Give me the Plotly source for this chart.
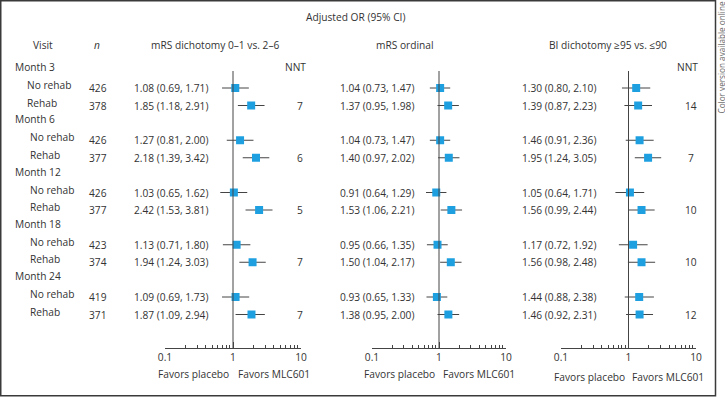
import plotly.graph_objects as go

W, H = 725, 397

# ---------------- data ----------------
visits = ["Month 3", "Month 6", "Month 12", "Month 18", "Month 24"]
subgroups = ["No rehab", "Rehab"]
n_values = [426, 378, 426, 377, 426, 377, 423, 374, 419, 371]

mrs_dich_or = [1.08, 1.85, 1.27, 2.18, 1.03, 2.42, 1.13, 1.94, 1.09, 1.87]
mrs_dich_lo = [0.69, 1.18, 0.81, 1.39, 0.65, 1.53, 0.71, 1.24, 0.69, 1.09]
mrs_dich_hi = [1.71, 2.91, 2.00, 3.42, 1.62, 3.81, 1.80, 3.03, 1.73, 2.94]
mrs_dich_nnt = ["", "7", "", "6", "", "5", "", "7", "", "7"]

mrs_ord_or = [1.04, 1.37, 1.04, 1.40, 0.91, 1.53, 0.95, 1.50, 0.93, 1.38]
mrs_ord_lo = [0.73, 0.95, 0.73, 0.97, 0.64, 1.06, 0.66, 1.04, 0.65, 0.95]
mrs_ord_hi = [1.47, 1.98, 1.47, 2.02, 1.29, 2.21, 1.35, 2.17, 1.33, 2.00]

bi_dich_or = [1.30, 1.39, 1.46, 1.95, 1.05, 1.56, 1.17, 1.56, 1.44, 1.46]
bi_dich_lo = [0.80, 0.87, 0.91, 1.24, 0.64, 0.99, 0.72, 0.98, 0.88, 0.92]
bi_dich_hi = [2.10, 2.23, 2.36, 3.05, 1.71, 2.44, 1.92, 2.48, 2.38, 2.31]
bi_dich_nnt = ["", "14", "", "7", "", "10", "", "10", "", "12"]

panel_titles = ["mRS dichotomy 0–1 vs. 2–6", "mRS ordinal", "BI dichotomy ≥95 vs. ≤90"]
tick_vals = [0.1, 1, 10]
tick_text = ["0.1", "1", "10"]
minor_vals = [0.2, 0.3, 0.4, 0.5, 0.6, 0.7, 0.8, 0.9, 2, 3, 4, 5, 6, 7, 8, 9]

# ---------------- layout helpers ----------------
FONT = "Open Sans"
FS = 10.2
TXT = "#333333"
LINE = "#444444"
BLUE = "#1ea0e0"

def px(x):
    return x / W

# row positions (pixel y, top-down)
group_y = [67 + g * 52.25 for g in range(len(visits))]
row_y = []
for gy in group_y:
    row_y += [gy + 21, gy + 38.5]

axis_y = 348
panels = [
    dict(dom=(165, 301), ci_x=132, data=(mrs_dich_or, mrs_dich_lo, mrs_dich_hi), nnt=mrs_dich_nnt,
         nnt_hdr=295.5, nnt_x=300, title_x=215.5, fav=(193.5, 273.5, 374)),
    dict(dom=(372, 506), ci_x=338, data=(mrs_ord_or, mrs_ord_lo, mrs_ord_hi), nnt=None,
         nnt_hdr=None, nnt_x=None, title_x=405, fav=(399.5, 478.5, 374)),
    dict(dom=(561, 696), ci_x=520, data=(bi_dich_or, bi_dich_lo, bi_dich_hi), nnt=bi_dich_nnt,
         nnt_hdr=687, nnt_x=691, title_x=608, fav=(589.5, 668, 377)),
]

fig = go.Figure()
annotations = []
shapes = []

def txt(x, y, s, anchor="center", size=FS, color=TXT, italic=False, angle=0):
    annotations.append(dict(
        x=px(x), y=y, xref="paper", yref="y", text=s, showarrow=False,
        xanchor=anchor, yanchor="middle", textangle=angle,
        font=dict(family=FONT, size=size, color=color,
                  style="italic" if italic else "normal")))

layout_axes = {}
for i, p in enumerate(panels):
    ax = "x" if i == 0 else f"x{i+1}"
    axname = "xaxis" if i == 0 else f"xaxis{i+1}"
    est, lo, hi = p["data"]
    fig.add_trace(go.Scatter(
        x=est, y=row_y, xaxis=ax, yaxis="y", mode="markers",
        marker=dict(symbol="square", size=8, color=BLUE, line=dict(width=0)),
        error_x=dict(type="data", symmetric=False,
                     array=[h - e for h, e in zip(hi, est)],
                     arrayminus=[e - l for e, l in zip(est, lo)],
                     color=LINE, thickness=1, width=0),
        showlegend=False, hoverinfo="skip"))
    layout_axes[axname] = dict(
        type="log", range=[-1, 1], domain=[px(p["dom"][0]), px(p["dom"][1])],
        anchor="free", position=1 - axis_y / H, side="bottom", automargin=False,
        showgrid=False, zeroline=False, showline=True, linecolor=LINE, linewidth=1,
        tickmode="array", tickvals=tick_vals, ticktext=tick_text,
        ticks="inside", ticklen=6, tickwidth=1, tickcolor=LINE,
        minor=dict(tickmode="array", tickvals=minor_vals, ticks="inside", ticklen=3,
                   tickwidth=1, tickcolor=LINE, showgrid=False),
        tickfont=dict(family=FONT, size=FS, color=TXT), fixedrange=True)
    # reference line at OR = 1
    shapes.append(dict(type="line", xref=ax, yref="y", x0=1, x1=1, y0=71, y1=axis_y,
                       line=dict(color=LINE, width=1)))
    # CI texts
    for e, l, h, y in zip(est, lo, hi, row_y):
        txt(p["ci_x"], y, f"{e:.2f} ({l:.2f}, {h:.2f})", anchor="left")
    # NNT
    if p["nnt"] is not None:
        txt(p["nnt_hdr"], group_y[0], "NNT")
        for v, y in zip(p["nnt"], row_y):
            if v:
                txt(p["nnt_x"], y, v)
    # titles and favors
    txt(p["title_x"], 45, panel_titles[i])
    txt(p["fav"][0], p["fav"][2], "Favors placebo")
    txt(p["fav"][1], p["fav"][2], "Favors MLC601")

# left columns
txt(355.5, 17, "Adjusted OR (95% CI)")
txt(43, 45, "Visit")
txt(97, 45, "n", italic=True)
for g, (v, gy) in enumerate(zip(visits, group_y)):
    txt(13.3, gy, v, anchor="left")
    indent = 24.5 if g == 0 else 28
    for k, sg in enumerate(subgroups):
        y = row_y[2 * g + k]
        txt(indent, y - 3, sg, anchor="left")
        txt(97.5, y, str(n_values[2 * g + k]))

# side note
txt(720.5, 58, "Color version available online", size=8.2, color="#666666", angle=-90)

# frame
shapes.append(dict(type="rect", xref="paper", yref="y", x0=px(0.75), x1=px(715.5),
                   y0=0.75, y1=395.8, line=dict(color="#3a3a3a", width=1.5)))

fig.update_layout(
    template="none",
    width=W, height=H, margin=dict(l=0, r=0, t=0, b=0, pad=0, autoexpand=False),
    paper_bgcolor="white", plot_bgcolor="white",
    yaxis=dict(range=[H, 0], domain=[0, 1], visible=False, fixedrange=True, automargin=False),
    annotations=annotations, shapes=shapes, showlegend=False,
    **layout_axes)

fig.write_html("out.html", config={"displayModeBar": False},
               post_script="document.body.style.margin='0';document.body.style.overflow='hidden';")
